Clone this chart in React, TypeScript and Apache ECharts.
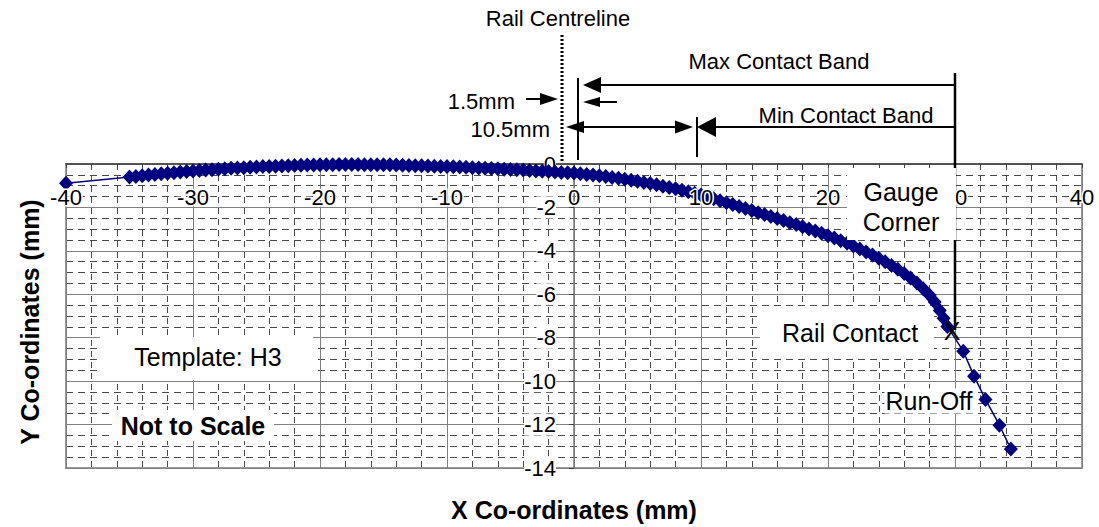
import React, { useEffect, useRef } from "react";
import * as echarts from "echarts";

// Rail head profile (H3 template), X/Y co-ordinates in mm
const profileX = [
  -40,
  -35, -34.5, -34, -33.5, -33, -32.5, -32, -31.5, -31, -30.5,
  -30, -29.5, -29, -28.5, -28, -27.5, -27, -26.5, -26, -25.5,
  -25, -24.5, -24, -23.5, -23, -22.5, -22, -21.5, -21, -20.5,
  -20, -19.5, -19, -18.5, -18, -17.5, -17, -16.5, -16, -15.5,
  -15, -14.5, -14, -13.5, -13, -12.5, -12, -11.5, -11, -10.5,
  -10, -9.5, -9, -8.5, -8, -7.5, -7, -6.5, -6, -5.5,
  -5, -4.5, -4, -3.5, -3, -2.5, -2, -1.5, -1, -0.5,
  0, 0.5, 1, 1.5, 2, 2.5, 3, 3.5, 4, 4.5,
  5, 5.5, 6, 6.5, 7, 7.5, 8, 8.5, 9, 9.5,
  10, 10.5, 11, 11.5, 12, 12.5, 13, 13.5, 14, 14.5,
  15, 15.5, 16, 16.5, 17, 17.5, 18, 18.5, 19, 19.5,
  20, 20.5, 21, 21.5, 22, 22.5, 23, 23.5, 24, 24.5,
  25, 25.5, 26, 26.5, 27, 27.5, 28, 28.4, 28.8, 29.1,
  29.4, 30.65, 31.5, 32.4, 33.5, 34.4,
];

const profileY = [
  -0.89,
  -0.6, -0.57, -0.54, -0.51, -0.48, -0.45, -0.43, -0.4, -0.37, -0.35,
  -0.32, -0.3, -0.28, -0.26, -0.24, -0.22, -0.2, -0.18, -0.17, -0.15,
  -0.14, -0.12, -0.11, -0.1, -0.09, -0.08, -0.07, -0.06, -0.05, -0.05,
  -0.04, -0.03, -0.03, -0.02, -0.02, -0.02, -0.02, -0.03, -0.03, -0.03,
  -0.04, -0.04, -0.05, -0.06, -0.07, -0.08, -0.08, -0.09, -0.1, -0.11,
  -0.12, -0.13, -0.14, -0.15, -0.17, -0.18, -0.19, -0.21, -0.22, -0.24,
  -0.25, -0.27, -0.28, -0.3, -0.32, -0.33, -0.35, -0.37, -0.39, -0.4,
  -0.42, -0.45, -0.48, -0.51, -0.54, -0.58, -0.62, -0.66, -0.7, -0.75,
  -0.8, -0.85, -0.9, -0.96, -1.02, -1.08, -1.14, -1.21, -1.28, -1.35,
  -1.43, -1.51, -1.6, -1.69, -1.78, -1.87, -1.96, -2.05, -2.14, -2.24,
  -2.33, -2.42, -2.51, -2.6, -2.7, -2.79, -2.89, -2.99, -3.09, -3.19,
  -3.3, -3.41, -3.53, -3.65, -3.78, -3.91, -4.05, -4.19, -4.34, -4.5,
  -4.67, -4.85, -5.04, -5.25, -5.48, -5.75, -6.05, -6.35, -6.75, -7.1,
  -7.48, -8.62, -9.77, -10.84, -12.03, -13.13,
];

const X_MIN = -40;
const X_MAX = 40;
const X_STEP = 10;
const Y_MIN = -14;
const Y_MAX = 0;
const Y_STEP = 2;

// plot area in pixels
const GRID_LEFT = 66;
const GRID_TOP = 164;
const GRID_W = 1016;
const GRID_H = 304;
// the Y axis crosses at X = 0
const Y_AXIS_OFFSET = -((0 - X_MIN) / (X_MAX - X_MIN)) * GRID_W;

const FONT = "'Liberation Sans', Arial, Helvetica, sans-serif";
const NAVY = "#000080";

const txt = (
  text: string,
  x: number,
  y: number,
  size: number,
  opts: Record<string, any> = {}
) => ({
  type: "text",
  x,
  y,
  z: opts.z ?? 3,
  rotation: opts.rotation ?? 0,
  style: {
    text,
    fill: "#000",
    font: `${opts.bold ? "bold " : ""}${size}px ${FONT}`,
    align: opts.align ?? "center",
    verticalAlign: "middle",
    backgroundColor: opts.bg,
    padding: opts.padding,
  },
});

const seg = (x1: number, y1: number, x2: number, y2: number, w = 2, z = 3, dash?: number[]) => ({
  type: "line",
  z,
  shape: { x1, y1, x2, y2 },
  style: { stroke: "#000", lineWidth: w, lineDash: dash },
});

const head = (pts: number[][], z = 3) => ({
  type: "polygon",
  z,
  shape: { points: pts },
  style: { fill: "#000" },
});

const box = (x: number, y: number, width: number, height: number, z = 1) => ({
  type: "rect",
  z,
  shape: { x, y, width, height },
  style: { fill: "#fff" },
});

export default function App() {
  const ref = useRef<HTMLDivElement>(null);

  useEffect(() => {
    if (!ref.current) return;
    const chart = echarts.init(ref.current, null, { renderer: "svg" });
    const data = profileX.map((x, i) => [x, profileY[i]]);

    chart.setOption({
      animation: false,
      backgroundColor: "#fff",
      textStyle: { fontFamily: FONT },
      grid: {
        left: GRID_LEFT,
        top: GRID_TOP,
        width: GRID_W,
        height: GRID_H,
        show: true,
        borderColor: "#999",
        borderWidth: 2,
      },
      xAxis: [
        {
          // X axis line and the grid
          type: "value",
          min: X_MIN,
          max: X_MAX,
          interval: X_STEP,
          position: "top",
          axisLine: { onZero: false, lineStyle: { color: "#404040", width: 1.5 } },
          axisTick: { show: true, inside: true, length: 4, lineStyle: { color: "#404040" } },
          minorTick: { show: true, splitNumber: 5, length: 4, lineStyle: { color: "#404040" } },
          axisLabel: { show: false },
          splitLine: { show: true, lineStyle: { color: "#808080", width: 1 } },
          minorSplitLine: { show: true, lineStyle: { color: "#4a4a4a", width: 1, type: [6, 5] } },
          z: 0,
        },
        {
          // X tick labels, drawn over the profile
          type: "value",
          min: X_MIN,
          max: X_MAX,
          interval: X_STEP,
          position: "top",
          axisLine: { show: false, onZero: false },
          axisTick: { show: false },
          splitLine: { show: false },
          axisLabel: {
            inside: true,
            margin: 22,
            fontSize: 22,
            fontFamily: FONT,
            color: "#000",
            textBorderColor: "#fff",
            textBorderWidth: 3,
          },
          z: 3,
        },
      ],
      yAxis: {
        type: "value",
        min: Y_MIN,
        max: Y_MAX,
        interval: Y_STEP,
        position: "left",
        offset: Y_AXIS_OFFSET,
        axisLine: { onZero: false, lineStyle: { color: "#777", width: 1.5 } },
        axisTick: { show: true, length: 5, lineStyle: { color: "#404040" } },
        axisLabel: {
          margin: 18,
          fontSize: 22,
          fontFamily: FONT,
          color: "#000",
          backgroundColor: "#fff",
        },
        splitLine: { show: true, lineStyle: { color: "#808080", width: 1 } },
        minorTick: { show: false, splitNumber: 4 },
        minorSplitLine: { show: true, lineStyle: { color: "#4a4a4a", width: 1, type: [7, 5] } },
        z: 0,
      },
      series: [
        {
          type: "line",
          data,
          xAxisIndex: 0,
          symbol: "diamond",
          symbolSize: [14, 15],
          clip: false,
          z: 2,
          itemStyle: { color: NAVY },
          lineStyle: { color: NAVY, width: 1.5 },
        },
      ],
      graphic: [
        // rail centreline
        txt("Rail Centreline", 558, 18, 22),
        seg(562, 35, 562, 161, 3, 3, [2, 2]),
        // max contact band
        txt("Max Contact Band", 779, 61, 22),
        seg(600, 85, 955, 85, 2),
        head([[583, 85], [601, 77], [601, 93]]),
        seg(955, 73, 955, 330, 2.5),
        seg(578, 78, 578, 160, 2),
        // 1.5mm offset
        seg(599, 102, 617, 102, 2),
        head([[583, 102], [600, 97], [600, 107]]),
        txt("1.5mm", 515, 101, 22, { align: "right" }),
        seg(526, 99, 541, 99, 2),
        head([[558, 99], [540, 93], [540, 105]]),
        // 10.5mm offset
        txt("10.5mm", 550, 129, 22, { align: "right" }),
        seg(583, 127, 676, 127, 2),
        head([[566, 127], [584, 121], [584, 133]]),
        head([[693, 127], [675, 120.5], [675, 133.5]]),
        seg(697, 117, 697, 157, 2),
        // min contact band
        txt("Min Contact Band", 846, 115, 22),
        seg(715, 127, 955, 127, 2),
        head([[697, 127], [716, 117], [716, 137]]),
        // text boxes in the plot
        box(847, 168, 109, 72, 4),
        txt("Gauge", 901, 192, 25, { z: 4.5 }),
        txt("Corner", 901, 222, 25, { z: 4.5 }),
        box(760, 306, 174, 52, 1),
        txt("Rail Contact", 850, 333, 25, { z: 1.5 }),
        txt("X", 952, 331, 25, { z: 5 }),
        box(100, 337, 213, 43, 1),
        txt("Template: H3", 208, 357, 25, { z: 1.5 }),
        box(112, 410, 162, 31, 1),
        txt("Not to Scale", 193, 426, 25, { z: 1.5, bold: true }),
        txt("Run-Off", 929, 401, 25, { z: 1.5, bg: "#fff", padding: [0, 1] }),
        // axis titles
        txt("X Co-ordinates (mm)", 574, 510, 25, { bold: true }),
        txt("Y Co-ordinates (mm)", 30, 322, 25, { bold: true, rotation: Math.PI / 2 }),
      ],
    });

    return () => chart.dispose();
  }, []);

  return (
    <div
      ref={ref}
      style={{
        position: "fixed",
        left: 0,
        top: 0,
        width: 1099,
        height: 527,
        background: "#fff",
      }}
    />
  );
}
